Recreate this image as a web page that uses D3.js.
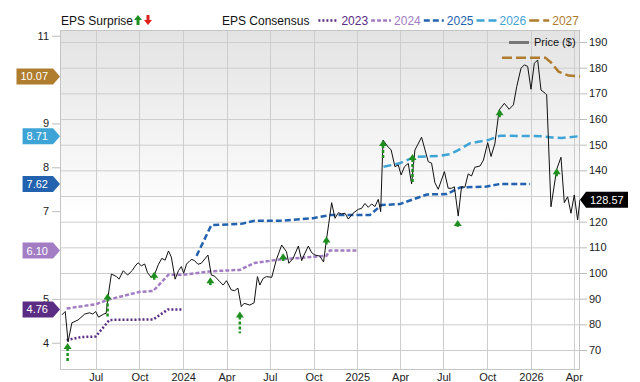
<!DOCTYPE html>
<html><head><meta charset="utf-8">
<script src="https://cdn.jsdelivr.net/npm/d3@7"></script>
<style>
body{margin:0;background:#fff}
svg{display:block;font-family:"Liberation Sans",Arial,Helvetica,sans-serif}
</style>
</head><body>
<svg id="chart" width="640" height="382"></svg>
<script>
// ---------- data ----------
const price = [["2023-04-21",83.7],["2023-04-28",85.0],["2023-05-04",73.2],["2023-05-12",80.6],["2023-05-25",81.7],["2023-06-08",84.0],["2023-06-18",84.5],["2023-06-25",84.0],["2023-07-01",85.0],["2023-07-07",82.8],["2023-07-18",84.0],["2023-07-23",84.3],["2023-07-27",90.8],["2023-08-03",99.6],["2023-08-14",98.6],["2023-08-19",97.6],["2023-08-28",100.9],["2023-09-06",99.2],["2023-09-16",101.0],["2023-09-22",102.7],["2023-09-28",104.0],["2023-10-05",102.8],["2023-10-12",103.5],["2023-10-18",100.1],["2023-10-26",98.3],["2023-11-02",99.6],["2023-11-10",103.4],["2023-11-17",105.7],["2023-11-24",105.0],["2023-12-01",108.6],["2023-12-07",106.2],["2023-12-15",97.6],["2023-12-22",100.9],["2023-12-28",102.5],["2024-01-02",99.9],["2024-01-08",103.5],["2024-01-15",104.8],["2024-01-19",105.3],["2024-01-25",104.8],["2024-02-01",103.4],["2024-02-08",103.8],["2024-02-22",107.0],["2024-02-29",99.2],["2024-03-07",98.8],["2024-03-18",96.6],["2024-03-25",95.3],["2024-04-01",97.0],["2024-04-11",93.4],["2024-04-18",93.1],["2024-04-25",94.1],["2024-05-02",86.9],["2024-05-08",88.2],["2024-05-20",87.5],["2024-05-29",88.4],["2024-06-05",98.6],["2024-06-10",95.3],["2024-06-17",97.9],["2024-06-24",98.6],["2024-07-05",98.3],["2024-07-15",105.3],["2024-07-26",110.9],["2024-08-05",108.3],["2024-08-10",103.8],["2024-08-19",105.7],["2024-08-30",110.5],["2024-09-06",104.8],["2024-09-11",107.0],["2024-09-20",110.5],["2024-09-27",107.9],["2024-10-04",107.0],["2024-10-14",106.6],["2024-10-22",104.3],["2024-10-28",112.9],["2024-11-02",119.4],["2024-11-08",127.4],["2024-11-15",121.3],["2024-11-22",123.5],["2024-11-29",123.0],["2024-12-06",123.3],["2024-12-13",121.0],["2024-12-23",123.3],["2025-01-03",124.8],["2025-01-10",125.2],["2025-01-17",127.1],["2025-01-24",125.6],["2025-01-31",126.9],["2025-02-07",125.9],["2025-02-14",128.7],["2025-02-19",123.9],["2025-02-24",151.8],["2025-03-07",149.0],["2025-03-13",148.0],["2025-03-21",141.4],["2025-03-28",142.1],["2025-04-03",138.2],["2025-04-10",141.4],["2025-04-18",142.7],["2025-04-25",134.7],["2025-05-02",147.9],["2025-05-16",152.9],["2025-05-30",143.4],["2025-06-06",142.8],["2025-06-13",135.2],["2025-06-20",132.6],["2025-07-03",139.5],["2025-07-11",133.0],["2025-07-18",133.0],["2025-07-24",133.6],["2025-08-01",122.2],["2025-08-08",133.6],["2025-08-15",133.4],["2025-08-22",138.6],["2025-08-29",137.8],["2025-09-05",141.2],["2025-09-16",141.7],["2025-09-23",144.0],["2025-10-02",150.8],["2025-10-09",145.4],["2025-10-17",150.3],["2025-10-26",163.5],["2025-11-06",166.1],["2025-11-16",163.8],["2025-11-25",165.5],["2025-12-02",172.6],["2025-12-11",179.8],["2025-12-18",181.1],["2025-12-25",180.5],["2026-01-01",171.6],["2026-01-08",181.7],["2026-01-15",183.0],["2026-01-22",171.3],["2026-01-31",170.0],["2026-02-03",169.4],["2026-02-12",125.8],["2026-02-24",140.4],["2026-03-05",145.1],["2026-03-12",127.4],["2026-03-19",129.7],["2026-03-26",123.3],["2026-04-02",130.4],["2026-04-09",120.7],["2026-04-14",128.57]];

const eps2023 = [["2023-05-01",4.06],["2023-06-01",4.13],["2023-07-01",4.14],["2023-07-30",4.52],["2023-10-30",4.53],["2023-11-30",4.76],["2023-12-31",4.76]];
const eps2024 = [["2023-05-01",4.78],["2023-07-02",4.88],["2023-07-30",4.99],["2023-10-02",5.16],["2023-10-30",5.18],["2023-12-01",5.55],["2023-12-31",5.55],["2024-02-29",5.63],["2024-04-29",5.66],["2024-05-30",5.82],["2024-07-24",5.90],["2024-10-01",5.96],["2024-10-28",5.98],["2024-11-04",6.10],["2024-12-31",6.10]];
const eps2025 = [["2024-01-29",5.98],["2024-02-29",6.68],["2024-05-02",6.71],["2024-05-30",6.78],["2024-07-22",6.78],["2024-09-30",6.84],["2024-11-04",6.91],["2025-01-27",6.91],["2025-02-21",7.14],["2025-03-31",7.16],["2025-05-27",7.38],["2025-07-08",7.39],["2025-08-05",7.54],["2025-09-30",7.56],["2025-10-28",7.62],["2025-12-30",7.62]];
const eps2026 = [["2025-02-25",8.01],["2025-03-31",8.09],["2025-05-02",8.24],["2025-06-24",8.26],["2025-07-15",8.30],["2025-08-01",8.39],["2025-08-26",8.55],["2025-09-12",8.58],["2025-10-03",8.62],["2025-10-28",8.72],["2026-01-24",8.71],["2026-02-14",8.68],["2026-03-07",8.67],["2026-04-14",8.71]];
const eps2027 = [["2025-11-01",10.50],["2026-01-31",10.50],["2026-02-12",10.39],["2026-02-28",10.18],["2026-03-21",10.09],["2026-04-14",10.07]];

// EPS surprise arrows: [date, price at arrow tip, price at stem end]
const surprises = [["2023-05-03",72.7,65.3],["2023-07-26",92.0,82.5],["2023-11-01",100.5,97.0],["2024-02-27",98.3,95.3],["2024-04-29",85.0,76.5],["2024-07-29",107.7,104.7],["2024-10-28",114.2,110.3],["2025-02-24",151.8,144.5],["2025-04-27",146.4,135.5],["2025-07-31",120.7,118.0],["2025-10-27",163.8,160.7],["2026-02-24",140.8,137.5]];

const seriesNames = ["2023","2024","2025","2026","2027"];
const seriesColors = ["#5b2c83","#a27dc3","#2262ae","#3ea4d6","#b07c2e"];
const seriesDash = ["2,2","4,2","6,3","8,4","10,4"];
const epsTicks = [4,5,6,7,8,9,10,11];
const priceTicks = [70,80,90,100,110,120,130,140,150,160,170,180,190];
const lastPrice = 128.57;

// ---------- layout ----------
const L = 60, R = 580, T = 30, B = 370;
const parse = d3.timeParse("%Y-%m-%d");
const x = d3.scaleTime().domain([parse("2023-04-17"), parse("2026-04-14")]).range([L, R]);
const yP = d3.scaleLinear().domain([62.21, 194.68]).range([B, T]);
const yE = d3.scaleLinear().domain([3.378, 11.13]).range([B, T]);
const epsSeries = [eps2023, eps2024, eps2025, eps2026, eps2027];
const badgeYs = epsSeries.map(s => yE(s[s.length-1][1]));
const yLast = yP(lastPrice);

const svg = d3.select("#chart");
const defs = svg.append("defs");
const grad = defs.append("linearGradient").attr("id","bg").attr("x1",0).attr("y1",0).attr("x2",0).attr("y2",1);
grad.append("stop").attr("offset","0%").attr("stop-color","#e3e3e3");
grad.append("stop").attr("offset","55%").attr("stop-color","#ffffff");
grad.append("stop").attr("offset","100%").attr("stop-color","#ffffff");
defs.append("clipPath").attr("id","clip").append("rect").attr("x",L).attr("y",T).attr("width",R-L).attr("height",B-T);

svg.append("rect").attr("x",L).attr("y",T).attr("width",R-L).attr("height",B-T).attr("fill","url(#bg)");

// gridlines
const quarterTicks = x.ticks(d3.timeMonth.every(3));
svg.append("g").selectAll("line").data(priceTicks).join("line")
  .attr("x1",L).attr("x2",R).attr("y1",d=>yP(d)+0.5).attr("y2",d=>yP(d)+0.5)
  .attr("stroke","#cdcdcd").attr("stroke-width",1);
svg.append("g").selectAll("line").data(quarterTicks).join("line")
  .attr("x1",d=>Math.round(x(d))+0.5).attr("x2",d=>Math.round(x(d))+0.5).attr("y1",T).attr("y2",B)
  .attr("stroke","#cdcdcd").attr("stroke-width",1);
svg.append("rect").attr("x",L+0.5).attr("y",T+0.5).attr("width",R-L-1).attr("height",B-T-1)
  .attr("fill","none").attr("stroke","#c4c4c4");

// axes (labels hidden behind the value badges are not drawn, as in the reference)
const leftVisible = epsTicks.filter(v => badgeYs.every(b => Math.abs(yE(v)-b) > 9));
const rightVisible = priceTicks.filter(v => Math.abs(yP(v)-yLast) > 9);
const axL = svg.append("g").attr("transform",`translate(${L},0)`)
  .call(d3.axisLeft(yE).tickValues(leftVisible).tickSize(8).tickPadding(3).tickFormat(d3.format("d")));
const axR = svg.append("g").attr("transform",`translate(${R},0)`)
  .call(d3.axisRight(yP).tickValues(rightVisible).tickSize(7).tickPadding(2).tickFormat(d3.format("d")));
const fmtX = d => d.getMonth() === 0 ? d3.timeFormat("%Y")(d) : d3.timeFormat("%b")(d);
const axB = svg.append("g").attr("transform",`translate(0,${B})`)
  .call(d3.axisBottom(x).tickValues(quarterTicks).tickSize(0).tickPadding(3).tickFormat(fmtX));
[axL, axR, axB].forEach(g => {
  g.select(".domain").remove();
  g.selectAll(".tick line").attr("stroke","#bdbdbd");
  g.selectAll("text").attr("fill","#222").style("font-size","11px");
});

// EPS consensus lines
const plot = svg.append("g").attr("clip-path","url(#clip)");
const epsLine = d3.line().x(d=>x(parse(d[0]))).y(d=>yE(d[1]));
epsSeries.forEach((s,i) => {
  plot.append("path").datum(s).attr("d",epsLine).attr("fill","none")
    .attr("stroke",seriesColors[i]).attr("stroke-width",2.5).attr("stroke-dasharray",seriesDash[i]);
});

// price line
const priceLine = d3.line().x(d=>x(parse(d[0]))).y(d=>yP(d[1]));
plot.append("path").datum(price).attr("d",priceLine).attr("fill","none")
  .attr("stroke","#111").attr("stroke-width",1).attr("stroke-linejoin","round");

// surprise arrows
const green = "#1e8f1e";
const arr = svg.append("g");
surprises.forEach(s => {
  const ax = x(parse(s[0])), yt = yP(s[1]), yb = yP(s[2]);
  if (yb > yt + 6) {
    arr.append("line").attr("x1",ax).attr("x2",ax).attr("y1",yt+5).attr("y2",yb)
      .attr("stroke",green).attr("stroke-width",2.5).attr("stroke-dasharray","3,2");
  }
  arr.append("path").attr("d",`M${ax},${yt}L${ax+4},${yt+6}L${ax-4},${yt+6}Z`).attr("fill",green);
});

// left badges
const badges = svg.append("g");
epsSeries.forEach((s,i) => {
  const v = s[s.length-1][1];
  const yy = badgeYs[i];
  const txt = d3.format(".2f")(v);
  const t = badges.append("text").attr("fill","#fff").style("font-size","11px").text(txt);
  const tw = t.node().getComputedTextLength();
  const tip = L, bodyR = L-7, bodyL = bodyR - tw - 9;
  badges.insert("path","text").attr("d",`M${bodyL},${yy-8}L${bodyR},${yy-8}L${tip},${yy}L${bodyR},${yy+8}L${bodyL},${yy+8}Z`)
    .attr("fill",seriesColors[i]);
  t.attr("x",bodyL+4).attr("y",yy+4);
});

// right price badge
svg.append("path").attr("d",`M${R},${yLast}L${R+6},${yLast-8}L${R+48},${yLast-8}L${R+48},${yLast+8}L${R+6},${yLast+8}Z`).attr("fill","#000");
svg.append("text").attr("x",R+10).attr("y",yLast+4).attr("fill","#fff").style("font-size","11px").text(d3.format(".2f")(lastPrice));

// legend: EPS surprise
const lg = svg.append("g");
lg.append("text").attr("x",61).attr("y",25).attr("fill","#111").style("font-size","12px").text("EPS Surprise");
lg.append("path").attr("d","M138,15L142,20L139.5,20L139.5,25L136.5,25L136.5,20L134,20Z").attr("fill",green);
lg.append("path").attr("d","M148,25L152,20L149.5,20L149.5,15L146.5,15L146.5,20L144,20Z").attr("fill","#e0201b");

// legend: EPS consensus
const ct = lg.append("text").attr("x",222).attr("y",25).attr("fill","#111").style("font-size","12px").text("EPS Consensus");
let cx = 222 + ct.node().getComputedTextLength() + 9;
seriesNames.forEach((n,i) => {
  lg.append("line").attr("x1",cx).attr("x2",cx+20).attr("y1",20.5).attr("y2",20.5)
    .attr("stroke",seriesColors[i]).attr("stroke-width",2.5).attr("stroke-dasharray",seriesDash[i]);
  const tt = lg.append("text").attr("x",cx+23).attr("y",25).attr("fill",seriesColors[i]).style("font-size","12px").text(n);
  cx += 23 + tt.node().getComputedTextLength() + 3;
});

// legend: price
lg.append("line").attr("x1",509).attr("x2",529).attr("y1",42.5).attr("y2",42.5).attr("stroke","#777").attr("stroke-width",3);
lg.append("text").attr("x",534).attr("y",46).attr("fill","#111").style("font-size","11px").text("Price ($)");
</script>
</body></html>
